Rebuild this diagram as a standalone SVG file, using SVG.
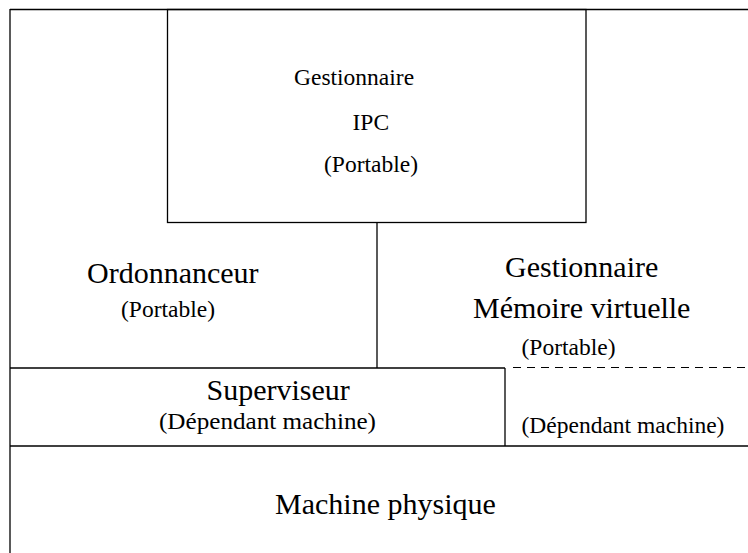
<svg xmlns="http://www.w3.org/2000/svg" width="748" height="553" viewBox="0 0 748 553">
  <style>
    .ln { stroke: #000; stroke-width: 1.3; fill: none; }
    .dash { stroke: #000; stroke-width: 1.2; stroke-dasharray: 8 6; fill: none; }
    text { font-family: "Liberation Serif", "Times New Roman", serif; fill: #000; }
    .big { font-size: 30px; }
    .mid { font-size: 23.5px; }
    .sub { font-size: 23px; }
  </style>
  <rect width="748" height="553" fill="#fff"/>

  <!-- frame and separating lines -->
  <g id="connectors">
    <line class="ln" x1="10" y1="9.5" x2="748" y2="9.5"/>
    <line class="ln" x1="10" y1="9" x2="10" y2="553"/>
    <line class="ln" x1="377" y1="222.5" x2="377" y2="368"/>
    <line class="ln" x1="10" y1="368" x2="505" y2="368"/>
    <line class="dash" x1="513" y1="367.5" x2="748" y2="367.5"/>
    <line class="ln" x1="505" y1="368" x2="505" y2="446"/>
    <line class="ln" x1="10" y1="446" x2="748" y2="446"/>
  </g>

  <g id="ipc">
    <rect class="ln" x="167.5" y="9.5" width="418.5" height="213"/>
    <text class="mid" x="294" y="85">Gestionnaire</text>
    <text class="mid" x="352.5" y="130">IPC</text>
    <text class="mid" x="324" y="172">(Portable)</text>
  </g>

  <g id="ordonnanceur">
    <text class="big" x="87" y="283">Ordonnanceur</text>
    <text class="mid" x="121" y="317">(Portable)</text>
  </g>

  <g id="memoire">
    <text class="big" x="505" y="277">Gestionnaire</text>
    <text class="big" x="473" y="318">Mémoire virtuelle</text>
    <text class="mid" x="521.5" y="355">(Portable)</text>
  </g>

  <g id="superviseur">
    <text class="big" x="206.5" y="400">Superviseur</text>
    <text class="sub" x="159" y="429" textLength="217" lengthAdjust="spacingAndGlyphs">(Dépendant machine)</text>
  </g>

  <g id="dependant">
    <text class="mid" x="521.5" y="433">(Dépendant machine)</text>
  </g>

  <g id="machine">
    <text class="big" x="275" y="514">Machine physique</text>
  </g>
</svg>
